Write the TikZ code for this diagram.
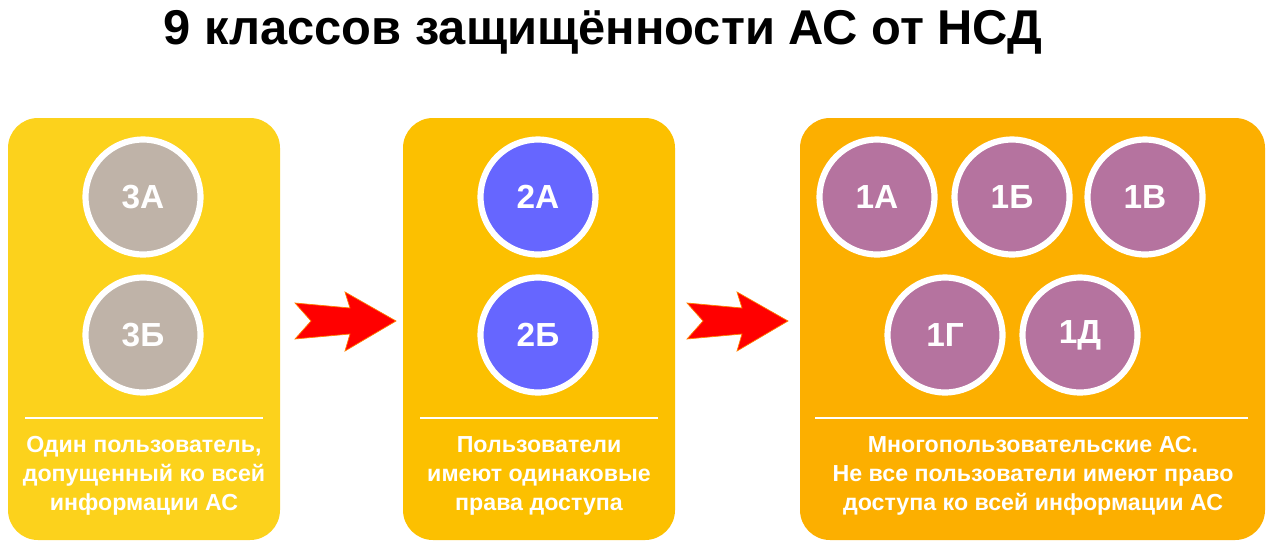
\documentclass[tikz,border=0pt]{standalone}
\usepackage{fontspec}
\setmainfont{Liberation Sans}
\definecolor{boxA}{HTML}{FCD21C}
\definecolor{boxB}{HTML}{FCC000}
\definecolor{boxC}{HTML}{FCAF00}
\definecolor{grayC}{HTML}{BFB3A8}
\definecolor{blueC}{HTML}{6666FF}
\definecolor{pinkC}{HTML}{B5739F}
\begin{document}
\begin{tikzpicture}
  [x=0.02cm,y=-0.02cm,
   panel/.style={rounded corners=0.6cm,inner sep=0},
   cls/.style={circle,draw=white,line width=3.5pt,minimum size=2.3cm,inner sep=0,
               text=white,font=\fontsize{19}{19}\selectfont\bfseries},
   caption/.style={text=white,align=center,font=\fontsize{13.2}{16.4}\selectfont\bfseries},
   sep/.style={draw=white,thick},
   arrowshape/.style={fill=red,draw=orange,thin}]
  \useasboundingbox (0,0) rectangle (1273,548);
  \node[font=\fontsize{27.8}{28}\selectfont\bfseries] (title) at (603,32) {9 классов защищённости АС от НСД};
  % panels
  \fill[boxA,panel] (8,118) rectangle (280,540);
  \fill[boxB,panel] (403,118) rectangle (675,540);
  \fill[boxC,panel] (800,118) rectangle (1265,540);
  % classes
  \node[cls,fill=grayC] (c3a) at (143,197) {3А};
  \node[cls,fill=grayC] (c3b) at (143,335) {3Б};
  \node[cls,fill=blueC] (c2a) at (538,197) {2А};
  \node[cls,fill=blueC] (c2b) at (538,335) {2Б};
  \node[cls,fill=pinkC] (c1a) at (877,197) {1А};
  \node[cls,fill=pinkC] (c1b) at (1012,197) {1Б};
  \node[cls,fill=pinkC] (c1v) at (1145,197) {1В};
  \node[cls,fill=pinkC] (c1g) at (945,335) {1Г};
  \node[cls,fill=pinkC] (c1d) at (1080,335) {1Д};
  % separators
  \draw[sep] (25,418) -- (263,418);
  \draw[sep] (420,418) -- (658,418);
  \draw[sep] (815,418) -- (1248,418);
  % captions
  \node[caption] (t3) at (144,476) {Один пользователь,\\допущенный ко всей\\информации АС};
  \node[caption] (t2) at (539,476) {Пользователи\\имеют одинаковые\\права доступа};
  \node[caption] (t1) at (1033,476) {Многопользовательские АС.\\Не все пользователи имеют право\\доступа ко всей информации АС};
  % arrows
  \foreach \dx in {0,392}
    \draw[arrowshape,xshift=\dx*0.02cm] (295,303) -- (350,308) -- (345,292) -- (396,321)
      -- (345,351) -- (350,334) -- (295,339) -- (311,321) -- cycle;
\end{tikzpicture}
\end{document}
